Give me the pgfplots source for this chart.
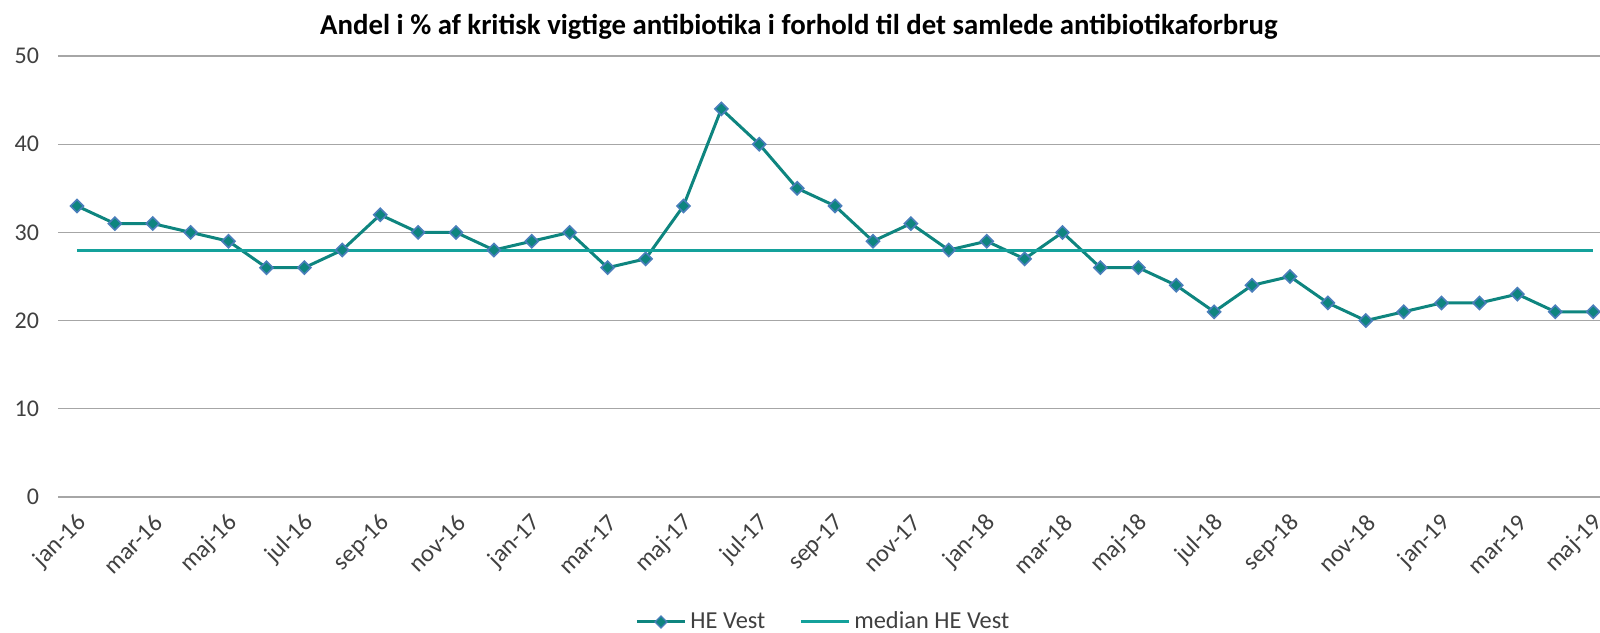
\documentclass[border=0pt]{standalone}
\usepackage{pgfplots}
\pgfplotsset{compat=1.18}
\usepackage{fontspec}
\setmainfont{Carlito}
\definecolor{lineteal}{HTML}{0E857F}
\definecolor{medteal}{HTML}{14A19B}
\definecolor{mkblue}{HTML}{4A7EBB}
\definecolor{gridgray}{HTML}{A6A6A6}
\definecolor{txtgray}{HTML}{404040}
\begin{document}
\begin{tikzpicture}
\begin{axis}[
  at={(29pt,67.5pt)}, anchor=south west,
  scale only axis, width=771pt, height=220.5pt,
  xmin=-0.5, xmax=40.18, ymin=0, ymax=50,
  clip=false,
  axis line style={draw=none},
  ytick={0,10,...,50},
  ymajorgrids, major grid style={gridgray, line width=0.6pt},
  major tick length=0pt,
  xtick={0,2,...,40},
  xticklabels={jan-16,mar-16,maj-16,jul-16,sep-16,nov-16,jan-17,mar-17,maj-17,jul-17,sep-17,nov-17,jan-18,mar-18,maj-18,jul-18,sep-18,nov-18,jan-19,mar-19,maj-19},
  xticklabel style={xshift=5.2pt, yshift=-8.7pt, rotate=45, anchor=east, font=\fontsize{12.2}{14}\selectfont, text=txtgray},
  yticklabel style={font=\fontsize{12}{14}\selectfont, text=txtgray, xshift=-6pt},
  /pgf/number format/assume math mode=true,
  title={\bfseries Andel i \% af kritisk vigtige antibiotika i forhold til det samlede antibiotikaforbrug},
  title style={at={(0.4805,1)}, anchor=center, yshift=8.5pt, font=\fontsize{14.4}{16}\selectfont},
  legend style={at={(0.497,-0.2834)}, anchor=center, legend columns=2, draw=none,
    font=\fontsize{12.2}{14}\selectfont, text=txtgray,
    /tikz/every even column/.append style={column sep=15pt}},
]
\addplot[lineteal, line width=1.5pt, mark=square*, mark size=2.3pt,
  mark options={fill=lineteal, draw=mkblue, line width=0.8pt, rotate=45},
  legend image code/.code={\draw[lineteal, line width=1.5pt] (0pt,0pt) -- (24pt,0pt);
    \draw[fill=lineteal, draw=mkblue, line width=0.6pt] plot[mark=square*, mark size=2.1pt, mark options={rotate=45}] coordinates {(12pt,0pt)};}]
coordinates {
(0,33)(1,31)(2,31)(3,30)(4,29)(5,26)(6,26)(7,28)(8,32)(9,30)(10,30)(11,28)
(12,29)(13,30)(14,26)(15,27)(16,33)(17,44)(18,40)(19,35)(20,33)(21,29)(22,31)(23,28)
(24,29)(25,27)(26,30)(27,26)(28,26)(29,24)(30,21)(31,24)(32,25)(33,22)(34,20)(35,21)
(36,22)(37,22)(38,23)(39,21)(40,21)
};
\addlegendentry{HE Vest}
\addplot[medteal, line width=1.5pt, mark=none,
  legend image code/.code={\draw[medteal, line width=1.5pt] (0pt,0pt) -- (24pt,0pt);}]
coordinates {(0,28)(40,28)};
\addlegendentry{median HE Vest}
\end{axis}
\pgfresetboundingbox
\path[use as bounding box] (0,0) rectangle (800pt,316pt);
\end{tikzpicture}
\end{document}
